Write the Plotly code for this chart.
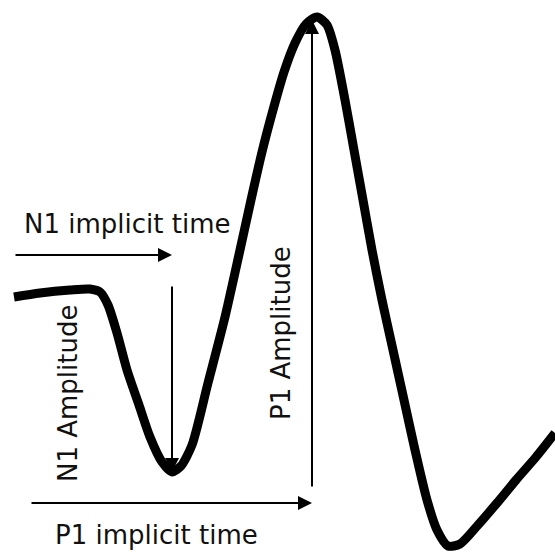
import plotly.graph_objects as go

# Waveform (pixel units, y grows downwards)
curve_x = [14, 40, 70, 90, 100, 108, 117, 127, 139, 150, 162, 172, 181, 192, 208, 225,
           240, 251, 262, 273, 284, 295, 306, 317, 327, 335, 345, 354, 363, 372, 382,
           393, 404, 415, 427, 437, 448, 460, 478, 497, 516, 536, 555]
curve_y = [297, 293, 290, 289, 292, 305, 333, 370, 405, 437, 462, 472, 466, 445, 383, 317,
           250, 200, 152, 110, 72, 43, 24, 17, 25, 50, 100, 150, 200, 250, 300,
           350, 400, 450, 500, 530, 546, 544, 525, 503, 480, 457, 433]

# Arrows: (tail x, tail y, tip x, tip y)
arrow_tail_x = [14, 172, 312, 30]
arrow_tail_y = [255, 285, 488, 503]
arrow_tip_x = [172, 172, 312, 312]
arrow_tip_y = [255, 472, 20, 503]

# Labels: text, centre x, centre y, angle
label_text = ['N1 implicit time', 'P1 implicit time', 'N1 Amplitude', 'P1 Amplitude']
label_x = [127, 156, 68, 281]
label_y = [224, 535, 393, 333]
label_angle = [0, 0, -90, -90]

fig = go.Figure()
fig.add_trace(go.Scatter(x=curve_x, y=curve_y, mode='lines',
                         line=dict(color='black', width=9, shape='spline', smoothing=0.7),
                         hoverinfo='skip', showlegend=False))

for tx, ty, hx, hy in zip(arrow_tail_x, arrow_tail_y, arrow_tip_x, arrow_tip_y):
    fig.add_annotation(x=hx, y=hy, ax=tx, ay=ty, xref='x', yref='y', axref='x', ayref='y',
                       text='', showarrow=True, arrowhead=2, arrowsize=1.4, arrowwidth=2,
                       arrowcolor='black', standoff=0, startstandoff=0)

for t, lx, ly, ang in zip(label_text, label_x, label_y, label_angle):
    fig.add_annotation(x=lx, y=ly, xref='x', yref='y', text=t, showarrow=False,
                       textangle=ang, font=dict(family='DejaVu Sans', size=26, color='#111'))

fig.update_xaxes(range=[0, 555], visible=False, fixedrange=True)
fig.update_yaxes(range=[552, 0], visible=False, fixedrange=True)
fig.update_layout(width=555, height=552, margin=dict(l=0, r=0, t=0, b=0),
                  paper_bgcolor='white', plot_bgcolor='white')

# drop the default page margin so the figure sits at the window's corner
fig.write_html("out.html", config={'displayModeBar': False},
               post_script="document.body.style.margin='0';")
